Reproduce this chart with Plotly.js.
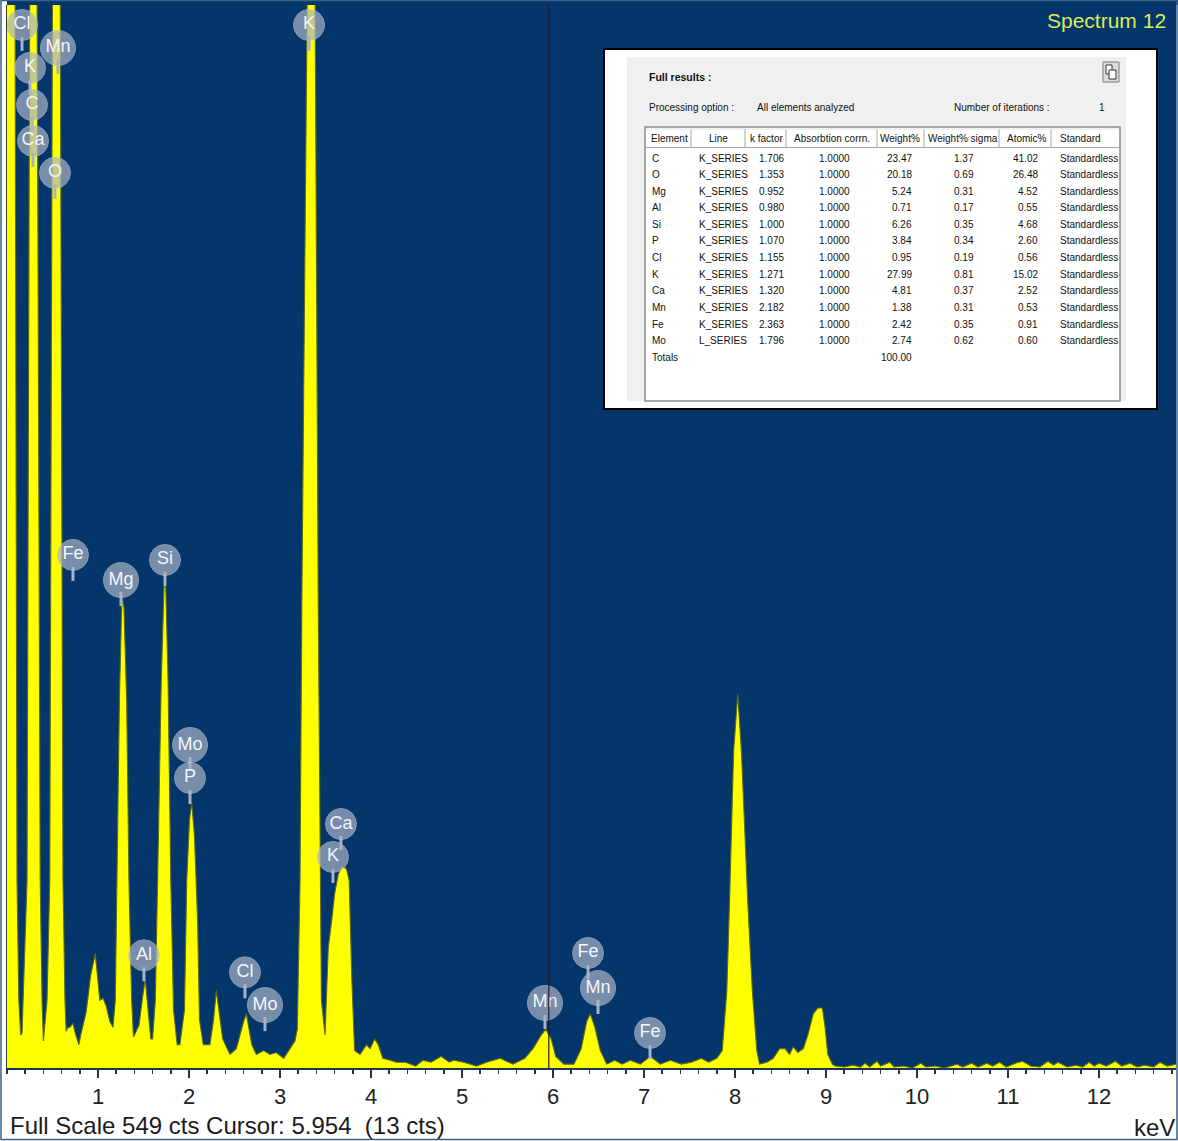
<!DOCTYPE html>
<html>
<head>
<meta charset="utf-8">
<script src="https://cdn.plot.ly/plotly-3.0.1.min.js"></script>
<style>
  html, body { margin: 0; padding: 0; background: #ffffff; }
  #chart { width: 1178px; height: 1141px; }
</style>
</head>
<body>
<div id="chart"></div>
<script>
// ---------------- DATA ----------------
const energy_keV = [
  0.00, 0.04, 0.06, 0.088, 0.11, 0.13, 0.15, 0.165, 0.178, 0.22, 0.25, 0.28, 0.30, 0.33, 0.365, 0.385, 0.40,
  0.44, 0.47, 0.50, 0.53, 0.56, 0.585, 0.615, 0.637, 0.65, 0.67, 0.69, 0.725, 0.75, 0.79, 0.81, 0.87, 0.92,
  0.97, 1.00, 1.02, 1.055, 1.09, 1.13, 1.165, 1.19, 1.21, 1.235, 1.26, 1.27, 1.285, 1.315, 1.34, 1.37, 1.39,
  1.45, 1.50, 1.52, 1.54, 1.58, 1.60, 1.63, 1.655, 1.695, 1.725, 1.735, 1.745, 1.77, 1.80, 1.83, 1.87, 1.90,
  1.95, 1.975, 2.005, 2.03, 2.06, 2.095, 2.115, 2.157, 2.23, 2.27, 2.30, 2.33, 2.37, 2.45, 2.52, 2.60, 2.63,
  2.69, 2.74, 2.82, 2.89, 2.96, 3.04, 3.11, 3.165, 3.19, 3.22, 3.24, 3.30, 3.33, 3.36, 3.385, 3.42, 3.44,
  3.455, 3.495, 3.53, 3.57, 3.60, 3.64, 3.68, 3.73, 3.76, 3.79, 3.82, 3.88, 3.95, 3.99, 4.04, 4.08, 4.13,
  4.21, 4.28, 4.38, 4.49, 4.57, 4.66, 4.77, 4.86, 4.91, 5.02, 5.16, 5.27, 5.42, 5.56, 5.69, 5.78, 5.87, 5.92,
  5.98, 6.03, 6.12, 6.23, 6.31, 6.37, 6.41, 6.46, 6.52, 6.59, 6.68, 6.76, 6.85, 6.96, 7.07, 7.18, 7.29, 7.41,
  7.52, 7.63, 7.71, 7.80, 7.86, 7.91, 7.94, 7.985, 8.03, 8.07, 8.11, 8.14, 8.19, 8.24, 8.27, 8.35, 8.42, 8.49,
  8.55, 8.60, 8.64, 8.69, 8.75, 8.80, 8.86, 8.91, 8.96, 8.99, 9.02, 9.07, 9.10, 9.20, 9.30, 9.38, 9.43, 9.48,
  9.56, 9.60, 9.65, 9.70, 9.75, 9.85, 9.95, 10.04, 10.10, 10.20, 10.30, 10.44, 10.50, 10.60, 10.67, 10.77,
  10.83, 10.91, 10.98, 11.08, 11.16, 11.25, 11.35, 11.44, 11.50, 11.55, 11.65, 11.75, 11.82, 11.89, 11.95,
  12.00, 12.08, 12.18, 12.25, 12.34, 12.42, 12.50, 12.60, 12.67, 12.75, 12.85
];
const counts = [
  600, 1400, 1400, 560, 97, 35, 17, 18, 35, 97, 560, 1800, 1800, 560, 97, 35, 14,
  35, 97, 560, 1600, 1600, 560, 97, 35, 19, 21, 21, 23, 18, 12, 17, 29, 48,
  59, 42, 35, 36, 32, 24, 21, 35, 97, 190, 238, 242, 238, 190, 97, 35, 16,
  22, 40, 46, 35, 15, 15, 35, 97, 200, 248, 252, 248, 200, 97, 30, 12, 12,
  30, 97, 128, 137, 120, 75, 25, 12, 12, 25, 40, 28, 15, 7, 10, 24, 28,
  12, 7, 9, 7, 8, 5, 10, 14, 20, 97, 241, 560, 1600, 1600, 560, 241, 97,
  35, 17, 62, 77, 90, 100, 104, 103, 97, 45, 9, 7, 12, 10, 15, 12, 5,
  4, 3, 3, 1, 4, 3, 6, 3, 4, 3, 1, 3, 5, 2, 5, 10, 17, 20,
  15, 6, 2, 2, 10, 24, 28, 21, 9, 2, 4, 2, 4, 2, 6, 2, 4, 2,
  3, 5, 3, 5, 9, 40, 86, 164, 193, 164, 120, 86, 40, 9, 2, 3, 5, 10,
  10, 7, 11, 8, 10, 17, 28, 31, 31, 21, 7, 2, 1, 0.5, 1.5, 0.5, 2.5, 0.5,
  3.5, 1, 2, 3, 0.5, 1, 0, 2.5, 0.5, 1, 0, 2, 0.5, 2.5, 0.5, 2.5,
  1, 3, 0.5, 2.5, 3.5, 1, 0.5, 3.5, 1.5, 3, 0.5, 1.5, 0.5, 3, 1,
  2.5, 1, 3.5, 1, 2.5, 0.5, 1.5, 0.5, 3, 1, 2
];

const tickValues = [1, 2, 3, 4, 5, 6, 7, 8, 9, 10, 11, 12];
const tickLabels = ['1', '2', '3', '4', '5', '6', '7', '8', '9', '10', '11', '12'];

const peakLabels = ['Cl', 'K', 'C', 'Ca', 'Mn', 'O', 'Fe', 'Mg', 'Si', 'Mo', 'P', 'K', 'Ca', 'K', 'Al', 'Cl', 'Mo', 'Mn', 'Fe', 'Mn', 'Fe'];
const labelKeV = [0.165, 0.253, 0.275, 0.286, 0.56, 0.527, 0.725, 1.253, 1.736, 2.011, 2.011, 3.319, 3.67, 3.582, 1.505, 2.615, 2.835, 5.912, 6.385, 6.495, 7.066];
const labelCounts = [538.7, 516.5, 497.4, 478.8, 526.8, 462.3, 265.0, 252.0, 262.4, 166.8, 149.8, 538.7, 126.0, 109.0, 58.2, 49.4, 32.5, 33.6, 59.4, 41.3, 18.1];

const spectrumName = 'Spectrum 12';
const fullScaleCts = 549;
const cursorKeV = 5.954;
const cursorCts = 13;

const tableHeaders = ['Element', 'Line', 'k factor', 'Absorbtion corrn.', 'Weight%', 'Weight% sigma', 'Atomic%', 'Standard'];
const elements = ['C', 'O', 'Mg', 'Al', 'Si', 'P', 'Cl', 'K', 'Ca', 'Mn', 'Fe', 'Mo'];
const lineSeries = ['K_SERIES', 'K_SERIES', 'K_SERIES', 'K_SERIES', 'K_SERIES', 'K_SERIES', 'K_SERIES', 'K_SERIES', 'K_SERIES', 'K_SERIES', 'K_SERIES', 'L_SERIES'];
const kFactor = ['1.706', '1.353', '0.952', '0.980', '1.000', '1.070', '1.155', '1.271', '1.320', '2.182', '2.363', '1.796'];
const absorptionCorr = ['1.0000', '1.0000', '1.0000', '1.0000', '1.0000', '1.0000', '1.0000', '1.0000', '1.0000', '1.0000', '1.0000', '1.0000'];
const weightPct = ['23.47', '20.18', '5.24', '0.71', '6.26', '3.84', '0.95', '27.99', '4.81', '1.38', '2.42', '2.74'];
const weightSigma = ['1.37', '0.69', '0.31', '0.17', '0.35', '0.34', '0.19', '0.81', '0.37', '0.31', '0.35', '0.62'];
const atomicPct = ['41.02', '26.48', '4.52', '0.55', '4.68', '2.60', '0.56', '15.02', '2.52', '0.53', '0.91', '0.60'];
const standardUsed = ['Standardless', 'Standardless', 'Standardless', 'Standardless', 'Standardless', 'Standardless', 'Standardless', 'Standardless', 'Standardless', 'Standardless', 'Standardless', 'Standardless'];
const totalsLabel = 'Totals';
const totalWeight = '100.00';
const processingOption = 'All elements analyzed';
const iterations = '1';

// ---------------- LAYOUT HELPERS ----------------
const W = 1178, H = 1141;
const M = { l: 7, r: 2, t: 5, b: 73 };
const plotW = W - M.l - M.r, plotH = H - M.t - M.b;
const PX = x => (x - M.l) / plotW;
const PY = y => (H - M.b - y) / plotH;
const ctsPerPx = fullScaleCts / plotH;

const TFONT = 'Arial, Liberation Sans, sans-serif';
const NFONT = 'Liberation Sans Narrow, Arial Narrow, Arial, sans-serif';

const annotations = [];
const shapes = [];
function txt(x, y, text, anchor, size, opts) {
  opts = opts || {};
  annotations.push({
    xref: 'paper', yref: 'paper', x: PX(x), y: PY(y), xanchor: anchor, yanchor: 'middle',
    text: text, showarrow: false,
    font: { family: opts.family || TFONT, size: size, color: opts.color || '#111111', weight: opts.weight || 'normal' }
  });
}
function rect(x0, y0, x1, y1, fill, lineColor, lineWidth, layer) {
  shapes.push({
    type: 'rect', xref: 'paper', yref: 'paper', x0: PX(x0), x1: PX(x1), y0: PY(y1), y1: PY(y0),
    fillcolor: fill, line: { color: lineColor || 'rgba(0,0,0,0)', width: lineWidth || 0 }, layer: layer || 'above'
  });
}
function seg(x0, y0, x1, y1, color, width) {
  shapes.push({
    type: 'line', xref: 'paper', yref: 'paper', x0: PX(x0), x1: PX(x1), y0: PY(y0), y1: PY(y1),
    line: { color: color, width: width }, layer: 'above'
  });
}

// top navy strip above the plot area
rect(M.l, 0, W, M.t, '#05366b', null, 0, 'below');

// cursor line
shapes.push({ type: 'line', xref: 'x', yref: 'paper', x0: cursorKeV, x1: cursorKeV, y0: 0, y1: 1,
  line: { color: '#1a1f28', width: 1.2 }, layer: 'above' });

// outer frame
rect(1, 0.5, W - 1, H - 1.5, 'rgba(0,0,0,0)', '#3c5f8a', 1.5, 'above');

// --------- results box ----------
rect(604, 49, 1157, 409, '#ffffff', '#000000', 2);
rect(627, 57, 1126, 401, '#f0f0f0', null, 0);
// copy icon
rect(1103, 62, 1119, 82, '#dcdcdc', '#7a7a7a', 1);
rect(1106, 65, 1112, 74, '#ffffff', '#333333', 1);
rect(1109, 70, 1116, 79, '#ffffff', '#333333', 1);
txt(647, 77, 'Full results :', 'left', 10.5, { weight: 'bold' });
txt(647, 107, 'Processing option :', 'left', 10);
txt(755, 107, processingOption, 'left', 10);
txt(952, 107, 'Number of iterations :', 'left', 10);
txt(1102, 107, iterations, 'center', 10);

// table
rect(645, 127, 1120, 401, '#ffffff', '#8c8c8c', 1.5);
const colSep = [691, 745, 786, 877, 924, 999, 1051];
colSep.forEach(x => seg(x, 129, x, 147, '#a6a6a6', 1));
seg(646, 147.5, 1119, 147.5, '#a6a6a6', 1);
seg(646, 129, 1119, 129, '#e4e4e4', 1);
const headerX = [669, 718, 766, 832, 900, 963, 1027, 1058];
const headerAnchor = ['center', 'center', 'center', 'center', 'center', 'center', 'center', 'left'];
tableHeaders.forEach((h, i) => txt(headerX[i], 139, h, headerAnchor[i], 10, { family: NFONT }));

const rowY0 = 158, rowStep = 16.6;
elements.forEach((el, i) => {
  const y = rowY0 + i * rowStep;
  txt(650, y, el, 'left', 10, { family: NFONT });
  txt(697, y, lineSeries[i], 'left', 10, { family: NFONT });
  txt(757, y, kFactor[i], 'left', 10, { family: NFONT });
  txt(834, y, absorptionCorr[i], 'center', 10, { family: NFONT });
  txt(914, y, weightPct[i], 'right', 10, { family: NFONT });
  txt(976, y, weightSigma[i], 'right', 10, { family: NFONT });
  txt(1040, y, atomicPct[i], 'right', 10, { family: NFONT });
  txt(1058, y, standardUsed[i], 'left', 10, { family: NFONT });
});
const totY = rowY0 + elements.length * rowStep;
txt(650, totY, totalsLabel, 'left', 10, { family: NFONT });
txt(914, totY, totalWeight, 'right', 10, { family: NFONT });

// spectrum name
txt(1168, 20, spectrumName, 'right', 21, { color: '#dbea58' });

// bottom texts
txt(8, 1125, 'Full Scale ' + fullScaleCts + ' cts Cursor: ' + cursorKeV.toFixed(3) + ' \u00a0(' + cursorCts + ' cts)', 'left', 24, { color: '#1b1b1b' });
txt(1177, 1127, 'keV', 'right', 24, { color: '#1b1b1b' });

// ---------------- TRACES ----------------
const spectrum = {
  type: 'scatter', mode: 'lines', x: energy_keV, y: counts,
  fill: 'tozeroy', fillcolor: '#ffff00',
  line: { color: '#5d6b1c', width: 1.1, shape: 'linear' },
  hoverinfo: 'skip'
};
const stems = {
  type: 'scatter', mode: 'markers',
  x: labelKeV, y: labelCounts.map(c => c - 19 * ctsPerPx),
  marker: { symbol: 'line-ns', size: 10, line: { color: '#a7b2c5', width: 3 } },
  hoverinfo: 'skip'
};
const badgeSize = peakLabels.map(t => (t === 'Mn' || t === 'Mo' || t === 'Mg') ? 35 : 31);
const badges = {
  type: 'scatter', mode: 'markers+text',
  x: labelKeV, y: labelCounts, text: peakLabels,
  textposition: 'middle center',
  textfont: { family: TFONT, size: 18, color: '#f4f6fa' },
  marker: { symbol: 'circle', size: badgeSize, color: '#a8b3c6', line: { color: '#b8c2d3', width: 1 } },
  hoverinfo: 'skip'
};

const layout = {
  width: W, height: H,
  margin: M,
  paper_bgcolor: '#ffffff',
  plot_bgcolor: '#05366b',
  showlegend: false,
  xaxis: {
    range: [0, plotW / 91],
    tickmode: 'array', tickvals: tickValues, ticktext: tickLabels,
    ticks: 'outside', ticklen: 8, tickwidth: 1.5, tickcolor: '#333333',
    minor: { dtick: 0.2, tick0: 0, ticks: 'outside', ticklen: 4, tickwidth: 1.5, tickcolor: '#333333', showgrid: false },
    showgrid: false, zeroline: false,
    showline: true, linecolor: '#1d3557', linewidth: 2,
    tickfont: { family: TFONT, size: 22, color: '#222222' },
    ticklabelstandoff: 0,
    fixedrange: true
  },
  yaxis: {
    range: [0, fullScaleCts],
    showticklabels: false, ticks: '', showgrid: false, zeroline: false,
    showline: true, linecolor: '#2f3f2a', linewidth: 1,
    fixedrange: true
  },
  shapes: shapes,
  annotations: annotations
};

Plotly.newPlot('chart', [spectrum, stems, badges], layout, { displayModeBar: false, staticPlot: true });
</script>
</body>
</html>
